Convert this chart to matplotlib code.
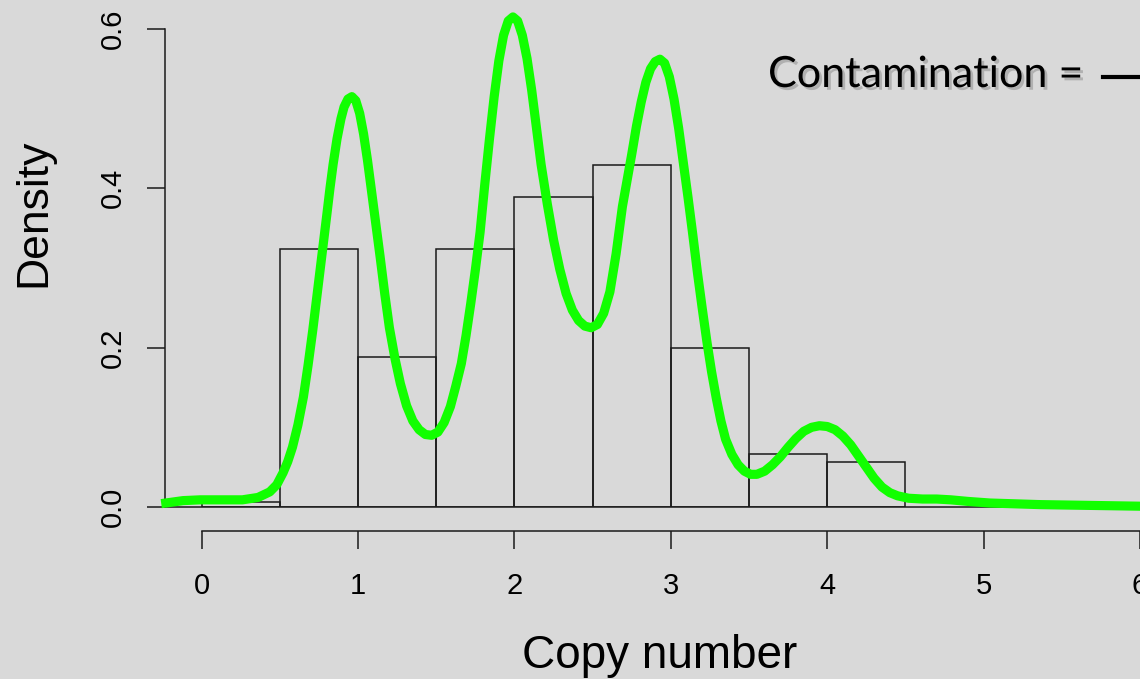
import matplotlib.pyplot as plt
import matplotlib.patheffects as pe
from matplotlib.lines import Line2D

# histogram of copy-number calls, density scale
breaks = [0.0, 0.5, 1.0, 1.5, 2.0, 2.5, 3.0, 3.5, 4.0, 4.5]
dens = [0.006, 0.324, 0.188, 0.324, 0.389, 0.429, 0.200, 0.066, 0.056]

# fitted density curve
cn_x = [-0.23, -0.12, -0.01, 0.12, 0.26, 0.36, 0.435, 0.48, 0.52, 0.55,
        0.58, 0.615, 0.65, 0.68, 0.71, 0.735, 0.76, 0.78, 0.80, 0.82,
        0.84, 0.865, 0.89, 0.91, 0.935, 0.96, 0.985, 1.01, 1.035, 1.06,
        1.085, 1.11, 1.14, 1.17, 1.20, 1.235, 1.27, 1.31, 1.35, 1.39,
        1.43, 1.47, 1.51, 1.55, 1.59, 1.625, 1.66, 1.69, 1.72, 1.75,
        1.78, 1.81, 1.84, 1.87, 1.90, 1.93, 1.96, 1.99, 2.02, 2.05,
        2.08, 2.11, 2.14, 2.17, 2.21, 2.25, 2.29, 2.33, 2.37, 2.41,
        2.45, 2.49, 2.53, 2.57, 2.61, 2.65, 2.69, 2.72, 2.75, 2.78,
        2.81, 2.84, 2.87, 2.90, 2.93, 2.96, 2.99, 3.02, 3.05, 3.08,
        3.11, 3.14, 3.17, 3.20, 3.23, 3.26, 3.29, 3.32, 3.35, 3.39,
        3.43, 3.47, 3.51, 3.55, 3.60, 3.65, 3.70, 3.75, 3.80, 3.85,
        3.90, 3.95, 4.00, 4.05, 4.10, 4.15, 4.20, 4.25, 4.30, 4.35,
        4.40, 4.45, 4.52, 4.61, 4.70, 4.79, 4.90, 5.04, 5.20, 5.36,
        5.70, 6.00]
cn_y = [0.005, 0.008, 0.009, 0.009, 0.009, 0.012, 0.019, 0.028, 0.043, 0.057,
        0.075, 0.103, 0.138, 0.178, 0.222, 0.262, 0.303, 0.335, 0.367, 0.400,
        0.430, 0.462, 0.487, 0.502, 0.512, 0.515, 0.510, 0.494, 0.468, 0.435,
        0.398, 0.360, 0.315, 0.268, 0.225, 0.187, 0.155, 0.127, 0.108, 0.097,
        0.091, 0.090, 0.094, 0.106, 0.126, 0.152, 0.180, 0.215, 0.255, 0.298,
        0.345, 0.405, 0.462, 0.515, 0.560, 0.592, 0.610, 0.615, 0.610, 0.592,
        0.563, 0.523, 0.476, 0.430, 0.380, 0.335, 0.298, 0.268, 0.247, 0.234,
        0.227, 0.225, 0.229, 0.243, 0.270, 0.318, 0.377, 0.410, 0.443, 0.478,
        0.508, 0.533, 0.550, 0.559, 0.562, 0.557, 0.540, 0.512, 0.475, 0.432,
        0.388, 0.342, 0.294, 0.250, 0.208, 0.170, 0.137, 0.108, 0.085, 0.066,
        0.053, 0.045, 0.041, 0.041, 0.045, 0.053, 0.063, 0.075, 0.086, 0.095,
        0.100, 0.102, 0.101, 0.097, 0.089, 0.078, 0.064, 0.050, 0.036, 0.025,
        0.018, 0.014, 0.011, 0.010, 0.010, 0.009, 0.007, 0.005, 0.004, 0.003,
        0.002, 0.001]

x_ticks = [0, 1, 2, 3, 4, 5, 6]
y_ticks = [0.0, 0.2, 0.4, 0.6]
y_labels = ['0.0', '0.2', '0.4', '0.6']

bg = '#d9d9d9'
ink = '#1a1a1a'
green = '#11ff00'

plt.rcParams['font.family'] = ['Liberation Sans', 'DejaVu Sans']

W, H = 1140, 679
fig = plt.figure(figsize=(W / 100, H / 100), dpi=100, facecolor=bg)
ax = fig.add_axes([165 / W, 172 / H, 975 / W, 502 / H])
ax.set_facecolor(bg)

widths = [b - a for a, b in zip(breaks[:-1], breaks[1:])]
ax.bar(breaks[:-1], dens, width=widths, align='edge', fill=False,
       edgecolor=ink, linewidth=1.1, zorder=2)
ax.axhline(0, color=ink, lw=1.1, clip_on=False, zorder=1)
ax.plot(cn_x, cn_y, color=green, lw=6.6, solid_joinstyle='round',
        clip_on=False, zorder=3)

ax.set_xlim(-0.235, 6.0)
ax.set_ylim(0, 0.63)

# R-style axes: detached x axis, vertical y tick labels
for s in ['top', 'right']:
    ax.spines[s].set_visible(False)
ax.spines['bottom'].set_position(('outward', 17.3))
ax.spines['bottom'].set_bounds(0, 6)
ax.spines['left'].set_bounds(0, 0.6)
for s in ['bottom', 'left']:
    ax.spines[s].set_color(ink)
    ax.spines[s].set_linewidth(1.1)

ax.set_xticks(x_ticks)
ax.set_yticks(y_ticks, labels=y_labels)
ax.tick_params(length=13, width=1.1, color=ink, labelsize=21)
ax.tick_params(axis='x', pad=16.5)
ax.tick_params(axis='y', pad=14.5)
for lbl in ax.get_yticklabels():
    lbl.set_rotation(90)
    lbl.set_va('center')

fig.text(660 / W, 1 - 656 / H, 'Copy number', fontsize=33,
         ha='center', va='center')
fig.text(34 / W, 1 - 213 / H, 'Density', fontsize=32, rotation=90,
         ha='center', va='center')

shadow = [pe.SimplePatchShadow(offset=(2, -2), shadow_rgbFace='#888888', alpha=0.5),
          pe.Normal()]
fig.text(768 / W, 1 - 87 / H, 'Contamination =', fontsize=31,
         family=['Lato', 'DejaVu Sans'], ha='left', va='baseline',
         path_effects=shadow)
fig.add_artist(Line2D([1103 / W, 1.02], [1 - 77 / H] * 2,
                      transform=fig.transFigure, color='black', lw=3))

fig.savefig('out.png', dpi=100, facecolor=bg)
